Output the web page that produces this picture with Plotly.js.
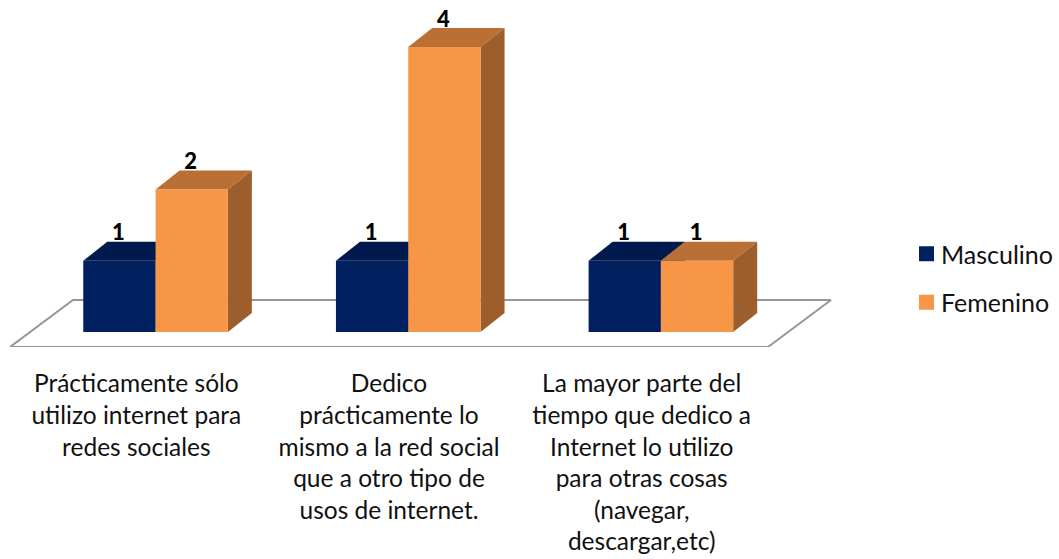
<!DOCTYPE html>
<html>
<head>
<meta charset="utf-8">
<script src="https://cdn.plot.ly/plotly-3.0.1.min.js"></script>
<style>html,body{margin:0;padding:0;background:#fff}</style>
</head>
<body>
<div id="chart" style="width:1059px;height:559px"></div>
<script>
const categoryPositions = [0, 1, 2];
const categoryLabels = [
  "Prácticamente sólo<br>utilizo internet para<br>redes sociales",
  "Dedico<br>prácticamente lo<br>mismo a la red social<br>que a otro tipo de<br>usos de internet.",
  "La mayor parte del<br>tiempo que dedico a<br>Internet lo utilizo<br>para otras cosas<br>(navegar,<br>descargar,etc)"
];
const masculino = [1, 1, 1];
const femenino = [2, 4, 1];

const pxPerCat = 252.67, pxPerVal = 71.25;
const depthX = 24 / pxPerCat, depthY = 19 / pxPerVal;
const barW = 72.3 / pxPerCat;
const offM = -0.210, offF = offM + barW;
const FONT = "Lato, Carlito, Calibri, sans-serif";
const TEXT = '#111111';

function box(vals, off, topColor, sideColor) {
  const out = [];
  vals.forEach((v, i) => {
    const l = categoryPositions[i] + off, r = l + barW;
    out.push({type:'scatter', mode:'lines', x:[l, l+depthX, r+depthX, r, l], y:[v, v+depthY, v+depthY, v, v],
      fill:'toself', fillcolor:topColor, line:{width:0}, showlegend:false, hoverinfo:'skip'});
    out.push({type:'scatter', mode:'lines', x:[r, r+depthX, r+depthX, r, r], y:[0, depthY, v+depthY, v, 0],
      fill:'toself', fillcolor:sideColor, line:{width:0}, showlegend:false, hoverinfo:'skip'});
  });
  return out;
}

const floorBack = 32 / pxPerVal, floorFront = -15 / pxPerVal, floorShift = 63 / pxPerCat;
const floor = {type:'scatter', mode:'lines',
  x:[-0.5, 2.5, 2.5+floorShift, -0.5+floorShift, -0.5],
  y:[floorFront, floorFront, floorBack, floorBack, floorFront],
  line:{color:'#969696', width:2}, showlegend:false, hoverinfo:'skip'};

function front(name, vals, off, color) {
  return {type:'bar', name:name, x:categoryPositions, y:vals, width:barW, offset:off,
    marker:{color:color, line:{width:0}}, showlegend:false, hoverinfo:'y+name', yaxis:'y2'};
}
function legendKey(name, color, group) {
  return {type:'scatter', mode:'markers', name:name, x:[null], y:[null], legendgroup:group,
    marker:{symbol:'square', size:15, color:color}, yaxis:'y2'};
}
function labels(vals, off) {
  return {type:'scatter', mode:'text', x:categoryPositions.map(c => c + off + barW/2 - 0.004), y:vals.map(v => v + 0.365),
    text:vals.map(String), textfont:{family:FONT, size:22, color:'#000', weight:900}, showlegend:false,
    hoverinfo:'skip', cliponaxis:false, yaxis:'y2'};
}

const yRange = [-15 / pxPerVal, 327 / pxPerVal];
const traces = [
  floor,
  ...box(masculino, offM, '#001A4D', '#001A4D'),
  front('Masculino', masculino, offM, '#002060'),
  ...box(femenino, offF, '#BA7034', '#9C5E2C'),
  front('Femenino', femenino, offF, '#F79646'),
  labels(masculino, offM),
  labels(femenino, offF),
  legendKey('Masculino', '#002060', 'm'),
  legendKey('Femenino', '#F79646', 'f')
];

const layout = {
  width:1059, height:559, paper_bgcolor:'#fff', plot_bgcolor:'#fff',
  margin:{l:10, r:199, t:5, b:212, pad:0},
  barmode:'overlay',
  font:{family:FONT, size:25, color:TEXT},
  xaxis:{range:[-0.5, -0.5 + 850/pxPerCat], tickmode:'array', tickvals:categoryPositions, ticktext:categoryLabels,
    ticks:'outside', ticklen:15, tickcolor:'rgba(0,0,0,0)', showgrid:false, zeroline:false, showline:false,
    tickangle:0, automargin:false, tickfont:{family:FONT, size:24.5, color:TEXT}},
  yaxis:{range:yRange, visible:false, fixedrange:true},
  yaxis2:{range:yRange, visible:false, overlaying:'y', fixedrange:true},
  showlegend:true,
  legend:{x:(885-10)/850, xanchor:'left', y:1-(231-5)/342, yanchor:'top', traceorder:'grouped', tracegroupgap:13,
    itemwidth:30, font:{family:FONT, size:25, color:TEXT}, bgcolor:'rgba(0,0,0,0)'}
};

Plotly.newPlot('chart', traces, layout, {displayModeBar:false, responsive:false}).then(() => {
  document.querySelectorAll('.xtick text').forEach(t => {
    t.querySelectorAll('tspan.line').forEach((s, i) => { s.setAttribute('dy', (i * 1.29) + 'em'); });
  });
  document.querySelectorAll('.legendsymbols').forEach(g => g.setAttribute('transform', 'translate(5.5,0)'));
  const lg = document.querySelector('.legend');
  const m = /translate\(([-\d.]+),\s*([-\d.]+)\)/.exec(lg.getAttribute('transform'));
  lg.setAttribute('transform', 'translate(' + (parseFloat(m[1]) + 16) + ',' + m[2] + ')');
});
</script>
</body>
</html>
